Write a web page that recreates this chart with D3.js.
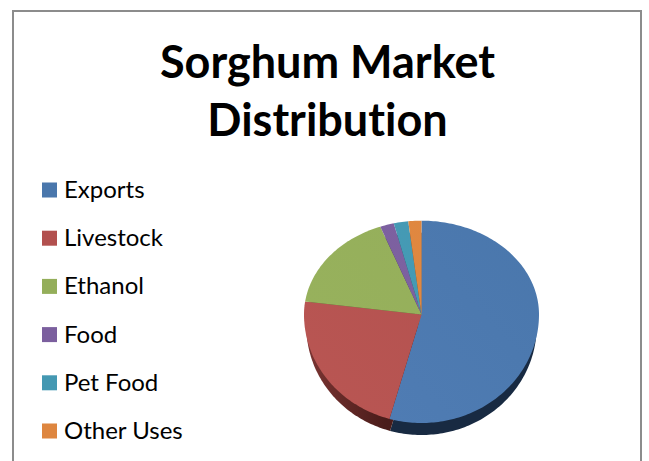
<!DOCTYPE html>
<html>
<head>
<meta charset="utf-8">
<script src="https://cdn.jsdelivr.net/npm/d3@7"></script>
<style>
  html, body { margin: 0; padding: 0; background: #fff; overflow: hidden; }
  svg { display: block; }
  text { font-family: Lato, "Open Sans", sans-serif; fill: #000; font-variant-ligatures: none; }
</style>
</head>
<body>
<div id="chart"></div>
<script>
const titleLines = ['Sorghum Market', 'Distribution'];
const categories = ['Exports', 'Livestock', 'Ethanol', 'Food', 'Pet Food', 'Other Uses'];
const shares = [54.4, 22.8, 17.1, 1.9, 2, 1.8];

const topColors = ['#4a77ac', '#b2504e', '#94ae5a', '#7b5f9e', '#4498b2', '#de863f'];
const lightColors = ['#507db5', '#b95653', '#98b25d', '#7f63a3', '#479db8', '#e38a42'];
const sideColors = ['#182a42', '#4a1c1a', '#4a5a2b', '#3d2f50', '#224c59', '#6f431f'];
const sideLightColors = ['#1c3252', '#7a3432', '#4a5a2b', '#3d2f50', '#224c59', '#6f431f'];

const width = 649, height = 461;

const svg = d3.select('#chart').append('svg')
  .attr('width', width)
  .attr('height', height);

const defs = svg.append('defs');
const color = d3.scaleOrdinal().domain(categories).range(topColors);
const colorLight = d3.scaleOrdinal().domain(categories).range(lightColors);
const side = d3.scaleOrdinal().domain(categories).range(sideColors);
const sideLight = d3.scaleOrdinal().domain(categories).range(sideLightColors);

// frame runs off the bottom of the picture
svg.append('rect')
  .attr('x', 13).attr('y', 11)
  .attr('width', 628).attr('height', 480)
  .attr('fill', '#fff')
  .attr('stroke', '#8c8c8c')
  .attr('stroke-width', 2);

// title
svg.append('g').selectAll('text').data(titleLines).join('text')
  .attr('x', 327.5)
  .attr('y', (d, i) => 77.5 + i * 58)
  .attr('text-anchor', 'middle')
  .attr('font-size', 45)
  .attr('font-weight', 700)
  .text(d => d);

// legend
const legendY = d3.scalePoint().domain(categories).range([190, 431]);
const legend = svg.append('g').selectAll('g').data(categories).join('g')
  .attr('transform', d => `translate(42,${legendY(d)})`);
legend.append('rect')
  .attr('y', -7.5)
  .attr('width', 15).attr('height', 15)
  .attr('fill', d => color(d));
legend.append('text')
  .attr('x', 22)
  .attr('y', 8)
  .attr('font-size', 24)
  .text(d => d);

// pie is tilted, so the hub sits above the middle of the ellipse
const xProject = d3.scaleLinear().domain([-1, 1]).range([304, 539]);
const yProject = d3.scaleLinear().domain([-1, 0, 1]).range([220.7, 314.5, 423]);
const depth = 12;
const hubX = xProject(0);

const slices = d3.pie().sort(null).value(d => d.share)(
  categories.map((name, i) => ({name, share: shares[i]}))
);

const slicePath = d3.line().x(p => xProject(p[0])).y(p => yProject(p[1]));

function outline(s) {
  const steps = Math.max(4, Math.ceil((s.endAngle - s.startAngle) / 0.02));
  const rim = d3.range(steps + 1).map(i => {
    const a = s.startAngle + (s.endAngle - s.startAngle) * i / steps;
    return [Math.sin(a), -Math.cos(a)];
  });
  return slicePath([[0, 0], ...rim]) + 'Z';
}

slices.forEach((s, i) => {
  const g = defs.append('linearGradient')
    .attr('id', `top-${i}`)
    .attr('gradientUnits', 'userSpaceOnUse')
    .attr('x1', 530).attr('y1', 230).attr('x2', 320).attr('y2', 420);
  g.append('stop').attr('offset', 0).attr('stop-color', color(s.data.name));
  g.append('stop').attr('offset', 1).attr('stop-color', colorLight(s.data.name));

  const b = defs.append('linearGradient')
    .attr('id', `side-${i}`)
    .attr('gradientUnits', 'userSpaceOnUse')
    .attr('x1', 385).attr('y1', 0).attr('x2', 305).attr('y2', 0);
  b.append('stop').attr('offset', 0).attr('stop-color', side(s.data.name));
  b.append('stop').attr('offset', 1).attr('stop-color', sideLight(s.data.name));
});

const pie = svg.append('g');

// side wall: same slices pushed down and a touch narrower, the top face covers all but the rim
pie.append('g')
  .attr('transform', `translate(${hubX},${depth}) scale(0.98,1) translate(${-hubX},0)`)
  .selectAll('path').data(slices).join('path')
  .attr('d', outline)
  .attr('fill', (d, i) => `url(#side-${i})`);

pie.append('g')
  .selectAll('path').data(slices).join('path')
  .attr('d', outline)
  .attr('fill', (d, i) => `url(#top-${i})`);
</script>
</body>
</html>
